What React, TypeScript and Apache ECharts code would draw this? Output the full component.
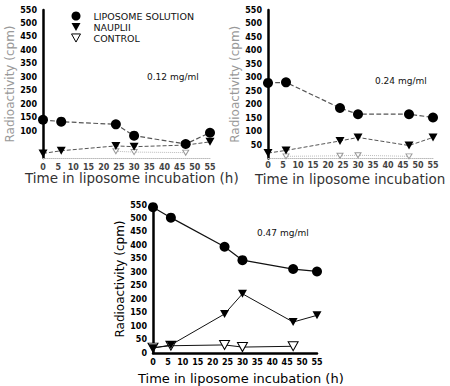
import React, { useEffect, useRef } from "react";
import * as echarts from "echarts";

// sampling times (h)
const times = [0, 6, 24, 30, 47, 55];
const xTicks = [0, 5, 10, 15, 20, 25, 30, 35, 40, 45, 50, 55];

// 0.12 mg/ml
const lipo012 = [142, 135, 125, 83, 52, 94];
const naup012 = [17, 27, 45, 42, 48, 60];
const ctrlTimes012 = [24, 30, 47];
const ctrl012 = [25, 22, 20];

// 0.24 mg/ml
const lipo024 = [280, 282, 187, 164, 164, 152];
const naup024 = [20, 30, 65, 78, 48, 78];
const ctrlTimes024 = [6, 24, 30, 47];
const ctrl024 = [8, 10, 12, 8];

// 0.47 mg/ml
const lipo047 = [542, 503, 395, 345, 312, 303];
const naup047 = [18, 30, 145, 220, 115, 140];
const ctrlTimes047 = [0, 6, 24, 30, 47];
const ctrl047 = [20, 27, 30, 22, 25];

const concLabels = ["0.12 mg/ml", "0.24 mg/ml", "0.47 mg/ml"];
const legendNames = ["LIPOSOME SOLUTION", "NAUPLII", "CONTROL"];
const xTitle = "Time in liposome incubation (h)";
const xTitleShort = "Time in liposome incubation";
const yTitle = "Radioactivity (cpm)";

const pair = (xs: number[], ys: number[]) => xs.map((x, i) => [x, ys[i]]);
const TRI = "path://M0,0L10,0L5,9Z";

export default function App() {
  const ref = useRef<HTMLDivElement>(null);
  useEffect(() => {
    if (!ref.current) return;
    const chart = echarts.init(ref.current, null, { renderer: "svg" });
    const font = "DejaVu Sans";
    const grids = [
      { left: 43, top: 10, width: 167, height: 148 },
      { left: 268, top: 10, width: 165, height: 148.5 },
      { left: 153, top: 205, width: 164, height: 148 },
    ];
    const faint = [true, true, false];
    const yMin = [100, 50, 0];
    const xMargin = [5, 3, 5];
    const xAxis = grids.map((_, i) => ({
      type: "value",
      gridIndex: i,
      min: 0,
      max: 55,
      interval: 5,
      axisLine: {
        show: true,
        lineStyle: { color: faint[i] ? "#bbb" : "#000", width: faint[i] ? 1 : 2.5, type: faint[i] ? "dotted" : "solid" },
      },
      axisTick: { show: false },
      splitLine: { show: false },
      axisLabel: {
        fontSize: 8,
        fontWeight: "bold",
        fontFamily: font,
        color: faint[i] ? "#444" : "#000",
        margin: xMargin[i],
        formatter: (v: number) => (xTicks.includes(v) ? String(v) : ""),
      },
    }));
    const yAxis = grids.map((_, i) => ({
      type: "value",
      gridIndex: i,
      min: 0,
      max: 550,
      interval: 50,
      name: yTitle,
      nameLocation: "middle",
      nameGap: i === 2 ? 27 : 26,
      nameTextStyle: {
        fontSize: 12,
        fontFamily: font,
        color: faint[i] ? "#999" : "#000",
      },
      axisLine: { show: true, lineStyle: { color: "#000", width: 2.5 } },
      axisTick: { show: false },
      splitLine: { show: false },
      axisLabel: {
        fontSize: 8,
        fontWeight: "bold",
        fontFamily: font,
        color: "#000",
        margin: 6,
        formatter: (v: number) => (v >= yMin[i] ? String(v) : ""),
      },
    }));

    const panels = [
      { lipo: lipo012, naup: naup012, ct: ctrlTimes012, c: ctrl012 },
      { lipo: lipo024, naup: naup024, ct: ctrlTimes024, c: ctrl024 },
      { lipo: lipo047, naup: naup047, ct: ctrlTimes047, c: ctrl047 },
    ];
    const order = [2, 0, 1];
    const series: any[] = [];
    order.forEach((i) => {
      const p = panels[i];
      const lineColor = faint[i] ? "#555" : "#111";
      const lineType = faint[i] ? "dashed" : "solid";
      series.push({
        type: "line",
        name: legendNames[2],
        xAxisIndex: i,
        yAxisIndex: i,
        data: pair(p.ct, p.c),
        symbol: TRI,
        symbolSize: faint[i] ? [6, 5] : [10, 9],
        lineStyle: { color: faint[i] ? "#bbb" : "#111", width: 1, type: faint[i] ? "dotted" : "solid" },
        itemStyle: { color: "#fff", borderColor: faint[i] ? "#999" : "#000", borderWidth: 1 },
        z: 2,
      });
      series.push({
        type: "line",
        name: legendNames[1],
        xAxisIndex: i,
        yAxisIndex: i,
        data: pair(times, p.naup),
        symbol: TRI,
        symbolSize: [9, 8],
        lineStyle: { color: lineColor, width: 1, type: lineType },
        itemStyle: { color: "#000" },
        z: 3,
      });
      series.push({
        type: "line",
        name: legendNames[0],
        xAxisIndex: i,
        yAxisIndex: i,
        data: pair(times, p.lipo),
        symbol: "circle",
        symbolSize: 10,
        lineStyle: { color: lineColor, width: 1.2, type: lineType },
        itemStyle: { color: "#000" },
        z: 4,
      });
    });

    const option: any = {
      animation: false,
      backgroundColor: "#fff",
      grid: grids.map((g) => ({ ...g, containLabel: false })),
      xAxis,
      yAxis,
      series,
      legend: {
        orient: "vertical",
        left: 66,
        top: 6,
        itemWidth: 9,
        itemHeight: 9,
        itemGap: 1,
        selectedMode: false,
        textStyle: { fontSize: 9.5, fontFamily: font, color: "#111", padding: [0, 0, 0, 8] },
        data: [
          { name: legendNames[0], icon: "circle", itemStyle: { color: "#000" } },
          { name: legendNames[1], icon: TRI, itemStyle: { color: "#000" } },
          { name: legendNames[2], icon: TRI, itemStyle: { color: "#fff", borderColor: "#000", borderWidth: 1 } },
        ],
      },
      graphic: [
        { type: "text", left: 147, top: 72, style: { text: concLabels[0], fontSize: 9, fontFamily: font, fill: "#111" } },
        { type: "text", left: 375, top: 76, style: { text: concLabels[1], fontSize: 9, fontFamily: font, fill: "#111" } },
        { type: "text", left: 257, top: 228, style: { text: concLabels[2], fontSize: 9, fontFamily: font, fill: "#111" } },
        { type: "text", left: 25, top: 171, style: { text: xTitle, fontSize: 13.5, fontFamily: font, fill: "#333" } },
        { type: "text", left: 255, top: 172, style: { text: xTitleShort, fontSize: 13.5, fontFamily: font, fill: "#333" } },
        { type: "text", left: 138, top: 372, style: { text: xTitle, fontSize: 13, fontFamily: font, fill: "#000" } },
      ],
    };
    chart.setOption(option);
    return () => chart.dispose();
  }, []);
  return (
    <div
      ref={ref}
      style={{ position: "fixed", left: 0, top: 0, width: 450, height: 386, background: "#fff" }}
    />
  );
}
